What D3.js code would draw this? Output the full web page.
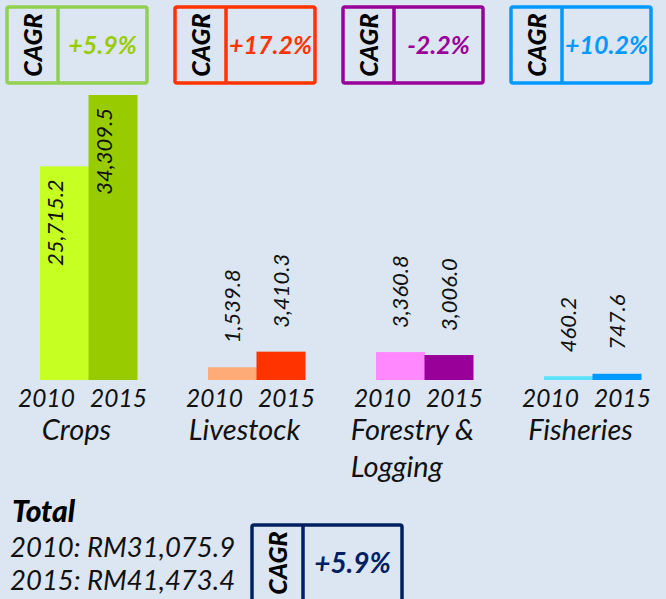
<!DOCTYPE html>
<html>
<head>
<meta charset="utf-8">
<script src="https://cdn.jsdelivr.net/npm/d3@7"></script>
<style>
  html, body { margin:0; padding:0; background:#dce6f2; }
  svg { display:block; }
  text { font-family: "Lato", "Open Sans", sans-serif; }
</style>
</head>
<body>
<svg id="chart" width="666" height="599"></svg>
<script>
// data
var categories = ["Crops", "Livestock", "Forestry &|Logging", "Fisheries"];
var years = ["2010", "2015"];
var values2010 = [25715.2, 1539.8, 3360.8, 460.2];
var values2015 = [34309.5, 3410.3, 3006.0, 747.6];
var cagrLabels = ["+5.9%", "+17.2%", "-2.2%", "+10.2%"];
var totalYears = ["2010", "2015"];
var totalValues = [31075.9, 41473.4];
var totalCagr = "+5.9%";

// styles
var colors2010 = ["#c6ff22", "#ffab78", "#ff88ff", "#5ce1ff"];
var colors2015 = ["#99cc00", "#ff3300", "#990099", "#0099ff"];
var frameColors = ["#92d050", "#ff3300", "#990099", "#0099ff"];
var cagrColors = ["#99cc00", "#ff3300", "#990099", "#0099ff"];
var navy = "#002060";

var svg = d3.select("#chart");
var fmt = d3.format(",.1f");

var baseY = 380, topY = 95;

var x0 = d3.scaleBand().domain(categories).range([40, 641]).paddingInner(71/168).paddingOuter(0);
var x1 = d3.scaleBand().domain(years).range([0, x0.bandwidth()]);
var y = d3.scaleLinear()
  .domain([0, d3.max(values2010.concat(values2015))])
  .range([baseY, topY]);

var rows = categories.map(function(c, i){
  return {cat:c, i:i, vals:[values2010[i], values2015[i]]};
});

var groups = svg.selectAll(".grp").data(rows).enter().append("g")
  .attr("class", "grp")
  .attr("transform", function(d){ return "translate(" + x0(d.cat) + ",0)"; });

// bars
groups.selectAll("rect").data(function(d){
  return d.vals.map(function(v, j){ return {v:v, yr:years[j], i:d.i, j:j}; });
}).enter().append("rect")
  .attr("x", function(d){ return x1(d.yr); })
  .attr("width", x1.bandwidth() + 0.5)
  .attr("y", function(d){ return y(d.v); })
  .attr("height", function(d){ return baseY - y(d.v); })
  .attr("fill", function(d){ return d.j == 0 ? colors2010[d.i] : colors2015[d.i]; });

// value labels, rotated
groups.selectAll(".val").data(function(d){
  return d.vals.map(function(v, j){ return {v:v, yr:years[j], i:d.i, j:j}; });
}).enter().append("text")
  .attr("class", "val")
  .attr("transform", function(d){
    var inside = d.v > 10000;
    var cx = x1(d.yr) + x1.bandwidth()/2 + (inside ? -1 : 8);
    var ty = inside ? y(d.v) + 13 : y(d.v) - 24;
    return "translate(" + cx + "," + ty + ") rotate(-90)";
  })
  .attr("text-anchor", function(d){ return d.v > 10000 ? "end" : "start"; })
  .attr("font-size", 22)
  .attr("font-style", "italic")
  .attr("fill", "#111")
  .text(function(d){ return fmt(d.v); });

// year labels
groups.selectAll(".yr").data(years).enter().append("text")
  .attr("class", "yr")
  .attr("x", function(d, j){ return x0.bandwidth()/2 - 6 + (j == 0 ? -36 : 36); })
  .attr("y", 407)
  .attr("text-anchor", "middle")
  .attr("font-size", 24.5)
  .attr("font-style", "italic")
  .attr("fill", "#111")
  .text(function(d){ return d; });

// category labels (multi-line ones are left aligned on the first line)
groups.each(function(d){
  var lines = d.cat.split("|");
  var t = d3.select(this).append("text")
    .attr("font-size", 29)
    .attr("font-style", "italic")
    .attr("fill", "#111");
  var spans = lines.map(function(l, k){
    return t.append("tspan").attr("y", 440 + k*37).text(l);
  });
  var w0 = spans[0].node().getComputedTextLength();
  var left = x0.bandwidth()/2 - 12 - w0/2;
  spans.forEach(function(s){ s.attr("x", left); });
});

// CAGR box
function cagrBox(g, bx, by, w, color, textColor, label, fs){
  var h = 76, lw = 51;
  g.append("rect").attr("x", bx).attr("y", by).attr("width", w).attr("height", h)
    .attr("rx", 2).attr("fill", "none").attr("stroke", color).attr("stroke-width", 3.5);
  g.append("line").attr("x1", bx + lw).attr("x2", bx + lw).attr("y1", by).attr("y2", by + h)
    .attr("stroke", color).attr("stroke-width", 3.5);
  g.append("text")
    .attr("transform", "translate(" + (bx + lw/2 + 9) + "," + (by + h/2) + ") rotate(-90)")
    .attr("text-anchor", "middle")
    .attr("font-size", 25).attr("font-weight", 900).attr("font-style", "italic")
    .attr("fill", "#000")
    .text("CAGR");
  g.append("text")
    .attr("x", bx + lw + (w - lw)/2).attr("y", by + h/2 + fs*0.36)
    .attr("text-anchor", "middle")
    .attr("font-size", fs).attr("font-weight", "bold").attr("font-style", "italic")
    .attr("fill", textColor)
    .text(label);
}

rows.forEach(function(d){
  cagrBox(svg, x0(d.cat) - 33, 7, 140, frameColors[d.i], cagrColors[d.i], cagrLabels[d.i], 25);
});

// total
svg.append("text").attr("x", 12).attr("y", 522)
  .attr("font-size", 30).attr("font-weight", 900).attr("font-style", "italic")
  .attr("fill", "#000").text("Total");
svg.selectAll(".tot").data(totalValues).enter().append("text")
  .attr("class", "tot")
  .attr("x", 10)
  .attr("y", function(d, i){ return 557 + i*33; })
  .attr("font-size", 27.5).attr("font-style", "italic").attr("fill", "#111")
  .text(function(d, i){ return totalYears[i] + ": RM" + fmt(d); });

cagrBox(svg, 252, 525, 150, navy, navy, totalCagr, 28);
</script>
</body>
</html>
